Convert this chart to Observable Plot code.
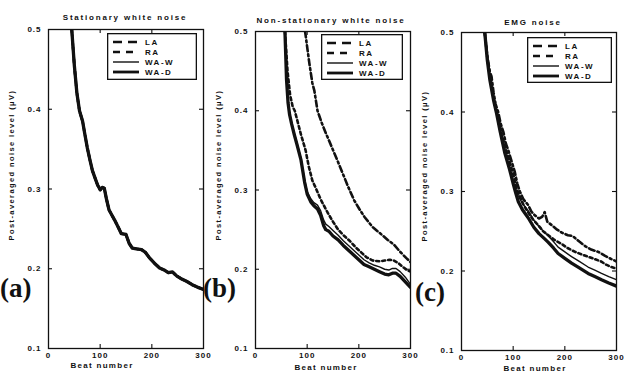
<!DOCTYPE html>
<html><head><meta charset="utf-8">
<script src="https://cdn.jsdelivr.net/npm/d3@7"></script>
<script src="https://cdn.jsdelivr.net/npm/@observablehq/plot@0.6"></script>
<style>
html,body{margin:0;padding:0;background:#fff;overflow:hidden;}
#wrap{position:relative;width:625px;height:372px;overflow:hidden;font-family:"Liberation Sans",Arial,sans-serif;color:#111;background:#fff;}
.panel{position:absolute;top:0;}
.lbl{position:absolute;font-weight:bold;white-space:nowrap;transform:translate(-50%,-50%);line-height:1;}
.title{font-size:8px;letter-spacing:1.8px;}
.xl{font-size:8px;letter-spacing:1.3px;}
.yl{font-size:7.5px;letter-spacing:1.4px;transform:translate(-50%,-50%) rotate(-90deg);}
.tag{position:absolute;font-family:"Liberation Serif","DejaVu Serif",serif;font-weight:bold;font-size:27px;line-height:1;}
</style></head>
<body><div id="wrap"></div>
<script>
// ---- data ----
const seriesNames = ["LA", "RA", "WA-W", "WA-D"];
const xTicks = [0, 100, 200, 300];
const yTicks = [0.1, 0.2, 0.3, 0.4, 0.5];
const titles = ["Stationary white noise", "Non-stationary white noise", "EMG noise"];
const panelTags = ["(a)", "(b)", "(c)"];
const xLabel = "Beat number";
const yLabel = "Post-averaged noise level (\u03bcV)";

// (a) stationary white noise: all four methods coincide
const aBeats = [45,50,55,60,66,70,75,80,85,90,95,100,104,108,112,117,122,128,135,141,150,156,162,170,180,187,195,205,215,225,232,240,248,258,268,278,288,300];
const aLA  = [0.5,0.455,0.42,0.398,0.385,0.37,0.352,0.337,0.323,0.314,0.305,0.299,0.302,0.301,0.288,0.274,0.268,0.261,0.252,0.244,0.243,0.232,0.226,0.225,0.224,0.221,0.214,0.207,0.201,0.198,0.195,0.196,0.191,0.187,0.184,0.18,0.177,0.174];
const aRA  = aLA.slice();
const aWAW = aLA.slice();
const aWAD = aLA.slice();

// (b) non-stationary white noise
const bBeatsLA = [96,104,110,114,120,128,136,149,160,170,180,191,201,211,227,240,256,268,280,292,300];
const bLA      = [0.5,0.461,0.435,0.425,0.4,0.385,0.372,0.352,0.335,0.319,0.303,0.287,0.276,0.266,0.253,0.246,0.237,0.231,0.222,0.214,0.209];
const bBeatsRA = [57,62,67,72,76,80,88,97,103,110,117,127,140,150,160,170,182,195,205,215,227,240,250,260,268,276,285,293,300];
const bRA      = [0.5,0.45,0.42,0.405,0.4,0.39,0.37,0.35,0.33,0.312,0.302,0.287,0.271,0.26,0.25,0.243,0.236,0.227,0.221,0.215,0.211,0.21,0.211,0.212,0.211,0.208,0.203,0.199,0.197];
const bBeatsWA = [57,60,63,66,70,75,80,88,95,100,107,113,120,126,132,136,142,150,160,170,180,190,200,210,220,230,240,250,258,265,272,280,290,300];
const bWAW     = [0.5,0.44,0.41,0.397,0.385,0.372,0.36,0.34,0.313,0.298,0.289,0.284,0.281,0.274,0.262,0.257,0.254,0.249,0.243,0.236,0.23,0.224,0.218,0.212,0.208,0.205,0.203,0.2,0.199,0.201,0.201,0.197,0.19,0.181];
const bWAD     = [0.5,0.44,0.41,0.395,0.383,0.37,0.358,0.338,0.31,0.295,0.285,0.28,0.276,0.268,0.255,0.25,0.248,0.242,0.237,0.23,0.224,0.218,0.212,0.206,0.203,0.2,0.197,0.194,0.193,0.195,0.195,0.191,0.184,0.177];

// (c) EMG noise
const cBeatsLA = [45,50,55,58,62,66,71,76,81,86,90,96,103,108,113,120,129,135,142,150,156,161,166,174,185,195,206,215,228,240,251,265,278,290,300];
const cLA      = [0.5,0.47,0.45,0.445,0.425,0.41,0.4,0.385,0.375,0.36,0.353,0.34,0.325,0.31,0.3,0.29,0.283,0.275,0.27,0.266,0.268,0.274,0.262,0.258,0.252,0.248,0.245,0.244,0.237,0.231,0.227,0.224,0.219,0.215,0.212];
const cBeatsRA = [45,50,55,60,66,72,78,85,92,100,106,112,120,129,138,148,158,168,180,194,205,220,232,245,258,270,280,290,300];
const cRA      = [0.5,0.468,0.445,0.425,0.405,0.39,0.372,0.355,0.34,0.322,0.305,0.295,0.283,0.274,0.265,0.258,0.25,0.245,0.239,0.234,0.229,0.224,0.221,0.218,0.215,0.212,0.208,0.205,0.203];
const cBeatsWA = [45,50,55,62,68,75,84,93,100,105,110,118,129,140,150,160,168,178,187,200,213,228,245,258,271,285,300];
const cWAW     = [0.5,0.465,0.44,0.415,0.398,0.375,0.348,0.328,0.31,0.303,0.294,0.285,0.276,0.264,0.256,0.249,0.244,0.237,0.23,0.224,0.218,0.212,0.205,0.201,0.197,0.193,0.189];
const cWAD     = [0.5,0.465,0.44,0.415,0.398,0.375,0.348,0.328,0.31,0.298,0.287,0.277,0.267,0.255,0.247,0.241,0.236,0.229,0.222,0.216,0.21,0.204,0.197,0.193,0.189,0.185,0.181];

// ---- styles ----
const ink = "#111";
const lineStyle = {
  "LA":   {strokeWidth: 2.6, strokeDasharray: "6,3,2,3"},
  "RA":   {strokeWidth: 2.6, strokeDasharray: "3,3"},
  "WA-W": {strokeWidth: 1.4, strokeDasharray: null},
  "WA-D": {strokeWidth: 3.3, strokeDasharray: null}
};
const legendDash = {"LA": "9,6", "RA": "7,6", "WA-W": null, "WA-D": null};

const panels = [
  {left: 0,   width: 206, mt: 29, mb: 24, ml: 48, mr: 3,
   series: [[aBeats,aLA],[aBeats,aRA],[aBeats,aWAW],[aBeats,aWAD]],
   title: [125,18], xl: [102,366], yl: [12,165], tag: [0,275],
   legend: {left:107, top:33, w:90, h:47}},
  {left: 200, width: 213, mt: 31, mb: 24, ml: 55, mr: 3,
   series: [[bBeatsLA,bLA],[bBeatsRA,bRA],[bBeatsWA,bWAW],[bBeatsWA,bWAD]],
   title: [331,21], xl: [326,368], yl: [219,165], tag: [203,275],
   legend: {left:321, top:34, w:82, h:46}},
  {left: 410, width: 215, mt: 32, mb: 22, ml: 51, mr: 9,
   series: [[cBeatsLA,cLA],[cBeatsRA,cRA],[cBeatsWA,cWAW],[cBeatsWA,cWAD]],
   title: [533,23], xl: [535,369], yl: [425,166], tag: [415,279],
   legend: {left:527, top:37, w:85, h:46}}
];

const wrap = document.getElementById("wrap");
const H = 372;

panels.forEach((p, pi) => {
  const innerH = H - p.mt - p.mb;
  const innerW = p.width - p.ml - p.mr;
  const lineMarks = p.series.map(([beats, vals], si) => {
    const name = seriesNames[si];
    const rows = beats.map((b, i) => ({beat: b, value: vals[i]}));
    const st = lineStyle[name];
    return Plot.line(rows, {x: "beat", y: "value", stroke: ink, strokeWidth: st.strokeWidth,
      strokeDasharray: st.strokeDasharray, strokeLinejoin: "round", clip: true});
  });
  const inner = xTicks.slice(1, -1);
  const innerY = yTicks.slice(1, -1);
  const chart = Plot.plot({
    width: p.width, height: H,
    marginTop: p.mt, marginBottom: p.mb, marginLeft: p.ml, marginRight: p.mr,
    x: {domain: [0, 300]},
    y: {domain: [0.1, 0.5]},
    style: {background: "transparent", fontFamily: "'Liberation Sans', Arial, sans-serif",
      fontSize: "8px", fontWeight: "bold", letterSpacing: "1px", color: ink, overflow: "visible"},
    marks: [
      Plot.axisX(xTicks, {anchor: "bottom", tickSize: 0, tickPadding: 4, label: null}),
      Plot.axisY(yTicks, {anchor: "left", tickSize: 0, tickPadding: 7, label: null, tickFormat: d => d.toFixed(1)}),
      Plot.tickX(inner, {x: d => d, insetTop: innerH - 4, stroke: ink, strokeWidth: 1.1}),
      Plot.tickX(inner, {x: d => d, insetBottom: innerH - 4, stroke: ink, strokeWidth: 1.1}),
      Plot.tickY(innerY, {y: d => d, insetRight: innerW - 4, stroke: ink, strokeWidth: 1.1}),
      Plot.tickY(innerY, {y: d => d, insetLeft: innerW - 4, stroke: ink, strokeWidth: 1.1}),
      ...lineMarks,
      Plot.frame({stroke: ink, strokeWidth: 1.3})
    ]
  });
  chart.classList.add("panel");
  chart.style.left = p.left + "px";
  wrap.appendChild(chart);

  // legend box
  const lg = p.legend;
  const svg = d3.select(wrap).append("svg")
    .attr("width", lg.w).attr("height", lg.h)
    .style("position", "absolute").style("left", lg.left + "px").style("top", lg.top + "px");
  svg.append("rect").attr("x", 0.65).attr("y", 0.65).attr("width", lg.w - 1.3).attr("height", lg.h - 1.3)
    .attr("fill", "#fff").attr("stroke", ink).attr("stroke-width", 1.3);
  seriesNames.forEach((name, i) => {
    const y = 9 + i * 10;
    svg.append("line").attr("x1", 6).attr("x2", 32).attr("y1", y).attr("y2", y)
      .attr("stroke", ink).attr("stroke-width", Math.min(lineStyle[name].strokeWidth, 2.8))
      .attr("stroke-dasharray", legendDash[name]);
    svg.append("text").attr("x", 38).attr("y", y).attr("dy", "0.35em")
      .attr("font-family", "'Liberation Sans', Arial, sans-serif").attr("font-size", 8)
      .attr("font-weight", "bold").style("letter-spacing", "1.5px").attr("fill", ink).text(name);
  });

  const add = (cls, txt, x, y) => {
    const d = document.createElement("div");
    d.className = "lbl " + cls; d.textContent = txt;
    d.style.left = x + "px"; d.style.top = y + "px";
    wrap.appendChild(d);
  };
  add("title", titles[pi], p.title[0], p.title[1]);
  add("xl", xLabel, p.xl[0], p.xl[1]);
  add("yl", yLabel, p.yl[0], p.yl[1]);
  const t = document.createElement("div");
  t.className = "tag"; t.textContent = panelTags[pi];
  t.style.left = p.tag[0] + "px"; t.style.top = p.tag[1] + "px";
  wrap.appendChild(t);
});
</script></body></html>
